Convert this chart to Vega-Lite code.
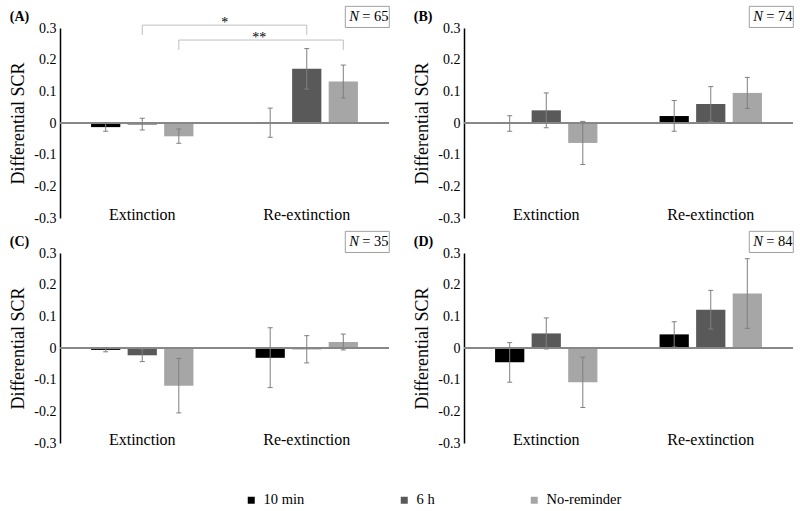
{
  "$schema": "https://vega.github.io/schema/vega-lite/v6.json",
  "padding": {"left": 9, "top": 4, "right": 0, "bottom": 0},
  "background": "white",
  "config": {
    "font": "Liberation Serif",
    "axis": {"labelFont": "Liberation Serif", "titleFont": "Liberation Serif"},
    "legend": {"labelFont": "Liberation Serif", "titleFont": "Liberation Serif"},
    "title": {"font": "Liberation Serif"},
    "text": {"font": "Liberation Serif"},
    "view": {"stroke": null},
    "concat": {"spacing": 21}
  },
  "datasets": {
    "d": [
      {"panel": "A", "kind": "bar", "phase": "Extinction", "cond": "10 min", "mean": -0.013, "lo": -0.026, "hi": 0.001},
      {"panel": "A", "kind": "bar", "phase": "Extinction", "cond": "6 h", "mean": -0.005, "lo": -0.022, "hi": 0.015},
      {"panel": "A", "kind": "bar", "phase": "Extinction", "cond": "No-reminder", "mean": -0.042, "lo": -0.064, "hi": -0.019},
      {"panel": "A", "kind": "bar", "phase": "Re-extinction", "cond": "10 min", "mean": 0.003, "lo": -0.045, "hi": 0.047},
      {"panel": "A", "kind": "bar", "phase": "Re-extinction", "cond": "6 h", "mean": 0.171, "lo": 0.107, "hi": 0.235},
      {"panel": "A", "kind": "bar", "phase": "Re-extinction", "cond": "No-reminder", "mean": 0.131, "lo": 0.079, "hi": 0.183},
      {"panel": "B", "kind": "bar", "phase": "Extinction", "cond": "10 min", "mean": -0.002, "lo": -0.026, "hi": 0.023},
      {"panel": "B", "kind": "bar", "phase": "Extinction", "cond": "6 h", "mean": 0.040, "lo": -0.015, "hi": 0.095},
      {"panel": "B", "kind": "bar", "phase": "Extinction", "cond": "No-reminder", "mean": -0.063, "lo": -0.131, "hi": 0.005},
      {"panel": "B", "kind": "bar", "phase": "Re-extinction", "cond": "10 min", "mean": 0.022, "lo": -0.026, "hi": 0.071},
      {"panel": "B", "kind": "bar", "phase": "Re-extinction", "cond": "6 h", "mean": 0.060, "lo": 0.005, "hi": 0.115},
      {"panel": "B", "kind": "bar", "phase": "Re-extinction", "cond": "No-reminder", "mean": 0.095, "lo": 0.046, "hi": 0.144},
      {"panel": "C", "kind": "bar", "phase": "Extinction", "cond": "10 min", "mean": -0.006, "lo": -0.012, "hi": 0.000},
      {"panel": "C", "kind": "bar", "phase": "Extinction", "cond": "6 h", "mean": -0.023, "lo": -0.043, "hi": -0.003},
      {"panel": "C", "kind": "bar", "phase": "Extinction", "cond": "No-reminder", "mean": -0.119, "lo": -0.205, "hi": -0.033},
      {"panel": "C", "kind": "bar", "phase": "Re-extinction", "cond": "10 min", "mean": -0.031, "lo": -0.125, "hi": 0.064},
      {"panel": "C", "kind": "bar", "phase": "Re-extinction", "cond": "6 h", "mean": -0.004, "lo": -0.047, "hi": 0.039},
      {"panel": "C", "kind": "bar", "phase": "Re-extinction", "cond": "No-reminder", "mean": 0.019, "lo": -0.006, "hi": 0.044},
      {"panel": "D", "kind": "bar", "phase": "Extinction", "cond": "10 min", "mean": -0.045, "lo": -0.108, "hi": 0.017},
      {"panel": "D", "kind": "bar", "phase": "Extinction", "cond": "6 h", "mean": 0.046, "lo": -0.003, "hi": 0.095},
      {"panel": "D", "kind": "bar", "phase": "Extinction", "cond": "No-reminder", "mean": -0.108, "lo": -0.188, "hi": -0.029},
      {"panel": "D", "kind": "bar", "phase": "Re-extinction", "cond": "10 min", "mean": 0.043, "lo": 0.003, "hi": 0.083},
      {"panel": "D", "kind": "bar", "phase": "Re-extinction", "cond": "6 h", "mean": 0.121, "lo": 0.060, "hi": 0.182},
      {"panel": "D", "kind": "bar", "phase": "Re-extinction", "cond": "No-reminder", "mean": 0.172, "lo": 0.062, "hi": 0.282},
      {"panel": "A", "kind": "n", "phase": "Re-extinction", "cond": "No-reminder", "y": 0.335, "label": "= 65"},
      {"panel": "B", "kind": "n", "phase": "Re-extinction", "cond": "No-reminder", "y": 0.335, "label": "= 74"},
      {"panel": "C", "kind": "n", "phase": "Re-extinction", "cond": "No-reminder", "y": 0.335, "label": "= 35"},
      {"panel": "D", "kind": "n", "phase": "Re-extinction", "cond": "No-reminder", "y": 0.335, "label": "= 84"},
      {"panel": "A", "kind": "br", "id": 1, "o": 1, "phase": "Extinction", "cond": "6 h", "y": 0.278},
      {"panel": "A", "kind": "br", "id": 1, "o": 2, "phase": "Extinction", "cond": "6 h", "y": 0.309},
      {"panel": "A", "kind": "br", "id": 1, "o": 3, "phase": "Re-extinction", "cond": "6 h", "y": 0.309},
      {"panel": "A", "kind": "br", "id": 1, "o": 4, "phase": "Re-extinction", "cond": "6 h", "y": 0.278},
      {"panel": "A", "kind": "br", "id": 2, "o": 1, "phase": "Extinction", "cond": "No-reminder", "y": 0.231},
      {"panel": "A", "kind": "br", "id": 2, "o": 2, "phase": "Extinction", "cond": "No-reminder", "y": 0.262},
      {"panel": "A", "kind": "br", "id": 2, "o": 3, "phase": "Re-extinction", "cond": "No-reminder", "y": 0.262},
      {"panel": "A", "kind": "br", "id": 2, "o": 4, "phase": "Re-extinction", "cond": "No-reminder", "y": 0.231},
      {"panel": "A", "kind": "s1", "phase": "Extinction", "cond": "No-reminder", "y": 0.303, "label": "*"},
      {"panel": "A", "kind": "s2", "phase": "Re-extinction", "cond": "10 min", "y": 0.256, "label": "**"}
    ]
  },
  "vconcat": [
    {"hconcat": [
      {
        "width": 329, "height": 190,
        "title": {"text": "(A)", "anchor": "start", "frame": "bounds", "fontSize": 14, "fontWeight": "bold", "font": "Liberation Serif", "baseline": "middle", "offset": -27, "color": "black"},
        "data": {"name": "d"},
        "transform": [{"filter": "datum.panel == 'A'"}],
        "layer": [
          {"transform": [{"filter": "datum.kind == 'bar'"}], "mark": {"type": "bar"},
           "encoding": {
             "x": {"field": "phase", "type": "nominal", "scale": {"paddingInner": 0, "paddingOuter": 0}, "axis": {"title": null, "domain": false, "ticks": false, "labelAngle": 0, "labelFont": "Liberation Serif", "labelFontSize": 16, "labelColor": "black", "labelPadding": -4, "labelBaseline": "middle"}},
             "xOffset": {"field": "cond", "type": "nominal", "scale": {"paddingInner": 0.2, "paddingOuter": 0.85}},
             "y": {"field": "mean", "type": "quantitative", "scale": {"domain": [-0.3, 0.3], "nice": false, "zero": false}, "axis": {"title": "Differential SCR", "titleFont": "Liberation Serif", "titleFontSize": 18, "titleFontWeight": "normal", "titleColor": "black", "titlePadding": 6, "tickCount": 6, "format": ".1~f", "labelExpr": "replace(datum.label, '\u2212', '-')", "labelOverlap": false, "labelFont": "Liberation Serif", "labelFontSize": 14, "labelColor": "black", "labelPadding": 4, "ticks": false, "grid": false, "domainColor": "black", "domainWidth": 1.5}},
             "y2": {"datum": 0},
             "color": {"field": "cond", "type": "nominal", "scale": {"domain": ["10 min", "6 h", "No-reminder"], "range": ["#000000", "#595959", "#a6a6a6"]}, "legend": {"orient": "none", "legendX": 184, "legendY": 465, "direction": "horizontal", "title": null, "symbolType": "square", "symbolSize": 49, "symbolStrokeWidth": 0, "symbolOpacity": 1, "labelFont": "Liberation Serif", "labelFontSize": 14.5, "labelColor": "black", "labelOffset": 5, "columnPadding": 92, "gridAlign": "none", "padding": 0}}
           }},
          {"transform": [{"filter": "datum.kind == 'bar'"}], "mark": {"type": "rule", "color": "#868686", "strokeWidth": 1}, "encoding": {"y": {"datum": 0, "scale": {"domain": [-0.3, 0.3], "nice": false, "zero": false}}}},
          {"transform": [{"filter": "datum.kind == 'bar'"}], "mark": {"type": "rule", "color": "#7f7f7f", "strokeWidth": 1},
           "encoding": {"x": {"field": "phase", "type": "nominal"}, "xOffset": {"field": "cond", "type": "nominal"}, "y": {"field": "lo", "type": "quantitative", "scale": {"domain": [-0.3, 0.3], "nice": false, "zero": false}}, "y2": {"field": "hi"}}},
          {"transform": [{"filter": "datum.kind == 'bar'"}], "mark": {"type": "tick", "color": "#7f7f7f", "size": 5, "thickness": 1, "opacity": 1},
           "encoding": {"x": {"field": "phase", "type": "nominal"}, "xOffset": {"field": "cond", "type": "nominal"}, "y": {"field": "lo", "type": "quantitative", "scale": {"domain": [-0.3, 0.3], "nice": false, "zero": false}}}},
          {"transform": [{"filter": "datum.kind == 'bar'"}], "mark": {"type": "tick", "color": "#7f7f7f", "size": 5, "thickness": 1, "opacity": 1},
           "encoding": {"x": {"field": "phase", "type": "nominal"}, "xOffset": {"field": "cond", "type": "nominal"}, "y": {"field": "hi", "type": "quantitative", "scale": {"domain": [-0.3, 0.3], "nice": false, "zero": false}}}},
          {"transform": [{"filter": "datum.kind == 'br'"}], "mark": {"type": "line", "color": "#bfbfbf", "strokeWidth": 1},
           "encoding": {"x": {"field": "phase", "type": "nominal"}, "xOffset": {"field": "cond", "type": "nominal"}, "y": {"field": "y", "type": "quantitative", "scale": {"domain": [-0.3, 0.3], "nice": false, "zero": false}}, "detail": {"field": "id"}, "order": {"field": "o"}}},
          {"transform": [{"filter": "datum.kind == 's1'"}], "mark": {"type": "text", "font": "Liberation Serif", "fontSize": 14, "dx": 46, "align": "center", "baseline": "alphabetic", "color": "black"},
           "encoding": {"x": {"field": "phase", "type": "nominal"}, "xOffset": {"field": "cond", "type": "nominal"}, "y": {"field": "y", "type": "quantitative", "scale": {"domain": [-0.3, 0.3], "nice": false, "zero": false}}, "text": {"field": "label"}}},
          {"transform": [{"filter": "datum.kind == 's2'"}], "mark": {"type": "text", "font": "Liberation Serif", "fontSize": 14, "dx": -11, "align": "center", "baseline": "alphabetic", "color": "black"},
           "encoding": {"x": {"field": "phase", "type": "nominal"}, "xOffset": {"field": "cond", "type": "nominal"}, "y": {"field": "y", "type": "quantitative", "scale": {"domain": [-0.3, 0.3], "nice": false, "zero": false}}, "text": {"field": "label"}}},
          {"transform": [{"filter": "datum.kind == 'n'"}], "mark": {"type": "point", "shape": "M0.09,-0.48H2.09V0.48H0.09Z", "size": 1936, "filled": false, "stroke": "#a0a0a0", "strokeWidth": 1, "opacity": 1},
           "encoding": {"x": {"field": "phase", "type": "nominal"}, "xOffset": {"field": "cond", "type": "nominal"}, "y": {"field": "y", "type": "quantitative", "scale": {"domain": [-0.3, 0.3], "nice": false, "zero": false}}}},
          {"transform": [{"filter": "datum.kind == 'n'"}], "mark": {"type": "text", "text": "N", "font": "Liberation Serif", "fontStyle": "italic", "fontSize": 14.5, "dx": 6, "align": "left", "baseline": "middle", "color": "black"},
           "encoding": {"x": {"field": "phase", "type": "nominal"}, "xOffset": {"field": "cond", "type": "nominal"}, "y": {"field": "y", "type": "quantitative", "scale": {"domain": [-0.3, 0.3], "nice": false, "zero": false}}}},
          {"transform": [{"filter": "datum.kind == 'n'"}], "mark": {"type": "text", "font": "Liberation Serif", "fontSize": 14.5, "dx": 19, "align": "left", "baseline": "middle", "color": "black"},
           "encoding": {"x": {"field": "phase", "type": "nominal"}, "xOffset": {"field": "cond", "type": "nominal"}, "y": {"field": "y", "type": "quantitative", "scale": {"domain": [-0.3, 0.3], "nice": false, "zero": false}}, "text": {"field": "label"}}}
        ]
      },
      {
        "width": 329, "height": 190,
        "title": {"text": "(B)", "anchor": "start", "frame": "bounds", "fontSize": 14, "fontWeight": "bold", "font": "Liberation Serif", "baseline": "middle", "offset": -27, "color": "black"},
        "data": {"name": "d"},
        "transform": [{"filter": "datum.panel == 'B'"}],
        "layer": [
          {"transform": [{"filter": "datum.kind == 'bar'"}], "mark": {"type": "bar"},
           "encoding": {
             "x": {"field": "phase", "type": "nominal", "scale": {"paddingInner": 0, "paddingOuter": 0}, "axis": {"title": null, "domain": false, "ticks": false, "labelAngle": 0, "labelFont": "Liberation Serif", "labelFontSize": 16, "labelColor": "black", "labelPadding": -4, "labelBaseline": "middle"}},
             "xOffset": {"field": "cond", "type": "nominal", "scale": {"paddingInner": 0.2, "paddingOuter": 0.85}},
             "y": {"field": "mean", "type": "quantitative", "scale": {"domain": [-0.3, 0.3], "nice": false, "zero": false}, "axis": {"title": "Differential SCR", "titleFont": "Liberation Serif", "titleFontSize": 18, "titleFontWeight": "normal", "titleColor": "black", "titlePadding": 6, "tickCount": 6, "format": ".1~f", "labelExpr": "replace(datum.label, '\u2212', '-')", "labelOverlap": false, "labelFont": "Liberation Serif", "labelFontSize": 14, "labelColor": "black", "labelPadding": 4, "ticks": false, "grid": false, "domainColor": "black", "domainWidth": 1.5}},
             "y2": {"datum": 0},
             "color": {"field": "cond", "type": "nominal", "scale": {"domain": ["10 min", "6 h", "No-reminder"], "range": ["#000000", "#595959", "#a6a6a6"]}, "legend": {"orient": "none", "legendX": 184, "legendY": 465, "direction": "horizontal", "title": null, "symbolType": "square", "symbolSize": 49, "symbolStrokeWidth": 0, "symbolOpacity": 1, "labelFont": "Liberation Serif", "labelFontSize": 14.5, "labelColor": "black", "labelOffset": 5, "columnPadding": 92, "gridAlign": "none", "padding": 0}}
           }},
          {"transform": [{"filter": "datum.kind == 'bar'"}], "mark": {"type": "rule", "color": "#868686", "strokeWidth": 1}, "encoding": {"y": {"datum": 0, "scale": {"domain": [-0.3, 0.3], "nice": false, "zero": false}}}},
          {"transform": [{"filter": "datum.kind == 'bar'"}], "mark": {"type": "rule", "color": "#7f7f7f", "strokeWidth": 1},
           "encoding": {"x": {"field": "phase", "type": "nominal"}, "xOffset": {"field": "cond", "type": "nominal"}, "y": {"field": "lo", "type": "quantitative", "scale": {"domain": [-0.3, 0.3], "nice": false, "zero": false}}, "y2": {"field": "hi"}}},
          {"transform": [{"filter": "datum.kind == 'bar'"}], "mark": {"type": "tick", "color": "#7f7f7f", "size": 5, "thickness": 1, "opacity": 1},
           "encoding": {"x": {"field": "phase", "type": "nominal"}, "xOffset": {"field": "cond", "type": "nominal"}, "y": {"field": "lo", "type": "quantitative", "scale": {"domain": [-0.3, 0.3], "nice": false, "zero": false}}}},
          {"transform": [{"filter": "datum.kind == 'bar'"}], "mark": {"type": "tick", "color": "#7f7f7f", "size": 5, "thickness": 1, "opacity": 1},
           "encoding": {"x": {"field": "phase", "type": "nominal"}, "xOffset": {"field": "cond", "type": "nominal"}, "y": {"field": "hi", "type": "quantitative", "scale": {"domain": [-0.3, 0.3], "nice": false, "zero": false}}}},
          {"transform": [{"filter": "datum.kind == 'n'"}], "mark": {"type": "point", "shape": "M0.09,-0.48H2.09V0.48H0.09Z", "size": 1936, "filled": false, "stroke": "#a0a0a0", "strokeWidth": 1, "opacity": 1},
           "encoding": {"x": {"field": "phase", "type": "nominal"}, "xOffset": {"field": "cond", "type": "nominal"}, "y": {"field": "y", "type": "quantitative", "scale": {"domain": [-0.3, 0.3], "nice": false, "zero": false}}}},
          {"transform": [{"filter": "datum.kind == 'n'"}], "mark": {"type": "text", "text": "N", "font": "Liberation Serif", "fontStyle": "italic", "fontSize": 14.5, "dx": 6, "align": "left", "baseline": "middle", "color": "black"},
           "encoding": {"x": {"field": "phase", "type": "nominal"}, "xOffset": {"field": "cond", "type": "nominal"}, "y": {"field": "y", "type": "quantitative", "scale": {"domain": [-0.3, 0.3], "nice": false, "zero": false}}}},
          {"transform": [{"filter": "datum.kind == 'n'"}], "mark": {"type": "text", "font": "Liberation Serif", "fontSize": 14.5, "dx": 19, "align": "left", "baseline": "middle", "color": "black"},
           "encoding": {"x": {"field": "phase", "type": "nominal"}, "xOffset": {"field": "cond", "type": "nominal"}, "y": {"field": "y", "type": "quantitative", "scale": {"domain": [-0.3, 0.3], "nice": false, "zero": false}}, "text": {"field": "label"}}}
        ]
      }
    ]},
    {"hconcat": [
      {
        "width": 329, "height": 190,
        "title": {"text": "(C)", "anchor": "start", "frame": "bounds", "fontSize": 14, "fontWeight": "bold", "font": "Liberation Serif", "baseline": "middle", "offset": -27, "color": "black"},
        "data": {"name": "d"},
        "transform": [{"filter": "datum.panel == 'C'"}],
        "layer": [
          {"transform": [{"filter": "datum.kind == 'bar'"}], "mark": {"type": "bar"},
           "encoding": {
             "x": {"field": "phase", "type": "nominal", "scale": {"paddingInner": 0, "paddingOuter": 0}, "axis": {"title": null, "domain": false, "ticks": false, "labelAngle": 0, "labelFont": "Liberation Serif", "labelFontSize": 16, "labelColor": "black", "labelPadding": -4, "labelBaseline": "middle"}},
             "xOffset": {"field": "cond", "type": "nominal", "scale": {"paddingInner": 0.2, "paddingOuter": 0.85}},
             "y": {"field": "mean", "type": "quantitative", "scale": {"domain": [-0.3, 0.3], "nice": false, "zero": false}, "axis": {"title": "Differential SCR", "titleFont": "Liberation Serif", "titleFontSize": 18, "titleFontWeight": "normal", "titleColor": "black", "titlePadding": 6, "tickCount": 6, "format": ".1~f", "labelExpr": "replace(datum.label, '\u2212', '-')", "labelOverlap": false, "labelFont": "Liberation Serif", "labelFontSize": 14, "labelColor": "black", "labelPadding": 4, "ticks": false, "grid": false, "domainColor": "black", "domainWidth": 1.5}},
             "y2": {"datum": 0},
             "color": {"field": "cond", "type": "nominal", "scale": {"domain": ["10 min", "6 h", "No-reminder"], "range": ["#000000", "#595959", "#a6a6a6"]}, "legend": {"orient": "none", "legendX": 184, "legendY": 465, "direction": "horizontal", "title": null, "symbolType": "square", "symbolSize": 49, "symbolStrokeWidth": 0, "symbolOpacity": 1, "labelFont": "Liberation Serif", "labelFontSize": 14.5, "labelColor": "black", "labelOffset": 5, "columnPadding": 92, "gridAlign": "none", "padding": 0}}
           }},
          {"transform": [{"filter": "datum.kind == 'bar'"}], "mark": {"type": "rule", "color": "#868686", "strokeWidth": 1}, "encoding": {"y": {"datum": 0, "scale": {"domain": [-0.3, 0.3], "nice": false, "zero": false}}}},
          {"transform": [{"filter": "datum.kind == 'bar'"}], "mark": {"type": "rule", "color": "#7f7f7f", "strokeWidth": 1},
           "encoding": {"x": {"field": "phase", "type": "nominal"}, "xOffset": {"field": "cond", "type": "nominal"}, "y": {"field": "lo", "type": "quantitative", "scale": {"domain": [-0.3, 0.3], "nice": false, "zero": false}}, "y2": {"field": "hi"}}},
          {"transform": [{"filter": "datum.kind == 'bar'"}], "mark": {"type": "tick", "color": "#7f7f7f", "size": 5, "thickness": 1, "opacity": 1},
           "encoding": {"x": {"field": "phase", "type": "nominal"}, "xOffset": {"field": "cond", "type": "nominal"}, "y": {"field": "lo", "type": "quantitative", "scale": {"domain": [-0.3, 0.3], "nice": false, "zero": false}}}},
          {"transform": [{"filter": "datum.kind == 'bar'"}], "mark": {"type": "tick", "color": "#7f7f7f", "size": 5, "thickness": 1, "opacity": 1},
           "encoding": {"x": {"field": "phase", "type": "nominal"}, "xOffset": {"field": "cond", "type": "nominal"}, "y": {"field": "hi", "type": "quantitative", "scale": {"domain": [-0.3, 0.3], "nice": false, "zero": false}}}},
          {"transform": [{"filter": "datum.kind == 'n'"}], "mark": {"type": "point", "shape": "M0.09,-0.48H2.09V0.48H0.09Z", "size": 1936, "filled": false, "stroke": "#a0a0a0", "strokeWidth": 1, "opacity": 1},
           "encoding": {"x": {"field": "phase", "type": "nominal"}, "xOffset": {"field": "cond", "type": "nominal"}, "y": {"field": "y", "type": "quantitative", "scale": {"domain": [-0.3, 0.3], "nice": false, "zero": false}}}},
          {"transform": [{"filter": "datum.kind == 'n'"}], "mark": {"type": "text", "text": "N", "font": "Liberation Serif", "fontStyle": "italic", "fontSize": 14.5, "dx": 6, "align": "left", "baseline": "middle", "color": "black"},
           "encoding": {"x": {"field": "phase", "type": "nominal"}, "xOffset": {"field": "cond", "type": "nominal"}, "y": {"field": "y", "type": "quantitative", "scale": {"domain": [-0.3, 0.3], "nice": false, "zero": false}}}},
          {"transform": [{"filter": "datum.kind == 'n'"}], "mark": {"type": "text", "font": "Liberation Serif", "fontSize": 14.5, "dx": 19, "align": "left", "baseline": "middle", "color": "black"},
           "encoding": {"x": {"field": "phase", "type": "nominal"}, "xOffset": {"field": "cond", "type": "nominal"}, "y": {"field": "y", "type": "quantitative", "scale": {"domain": [-0.3, 0.3], "nice": false, "zero": false}}, "text": {"field": "label"}}}
        ]
      },
      {
        "width": 329, "height": 190,
        "title": {"text": "(D)", "anchor": "start", "frame": "bounds", "fontSize": 14, "fontWeight": "bold", "font": "Liberation Serif", "baseline": "middle", "offset": -27, "color": "black"},
        "data": {"name": "d"},
        "transform": [{"filter": "datum.panel == 'D'"}],
        "layer": [
          {"transform": [{"filter": "datum.kind == 'bar'"}], "mark": {"type": "bar"},
           "encoding": {
             "x": {"field": "phase", "type": "nominal", "scale": {"paddingInner": 0, "paddingOuter": 0}, "axis": {"title": null, "domain": false, "ticks": false, "labelAngle": 0, "labelFont": "Liberation Serif", "labelFontSize": 16, "labelColor": "black", "labelPadding": -4, "labelBaseline": "middle"}},
             "xOffset": {"field": "cond", "type": "nominal", "scale": {"paddingInner": 0.2, "paddingOuter": 0.85}},
             "y": {"field": "mean", "type": "quantitative", "scale": {"domain": [-0.3, 0.3], "nice": false, "zero": false}, "axis": {"title": "Differential SCR", "titleFont": "Liberation Serif", "titleFontSize": 18, "titleFontWeight": "normal", "titleColor": "black", "titlePadding": 6, "tickCount": 6, "format": ".1~f", "labelExpr": "replace(datum.label, '\u2212', '-')", "labelOverlap": false, "labelFont": "Liberation Serif", "labelFontSize": 14, "labelColor": "black", "labelPadding": 4, "ticks": false, "grid": false, "domainColor": "black", "domainWidth": 1.5}},
             "y2": {"datum": 0},
             "color": {"field": "cond", "type": "nominal", "scale": {"domain": ["10 min", "6 h", "No-reminder"], "range": ["#000000", "#595959", "#a6a6a6"]}, "legend": {"orient": "none", "legendX": 184, "legendY": 465, "direction": "horizontal", "title": null, "symbolType": "square", "symbolSize": 49, "symbolStrokeWidth": 0, "symbolOpacity": 1, "labelFont": "Liberation Serif", "labelFontSize": 14.5, "labelColor": "black", "labelOffset": 5, "columnPadding": 92, "gridAlign": "none", "padding": 0}}
           }},
          {"transform": [{"filter": "datum.kind == 'bar'"}], "mark": {"type": "rule", "color": "#868686", "strokeWidth": 1}, "encoding": {"y": {"datum": 0, "scale": {"domain": [-0.3, 0.3], "nice": false, "zero": false}}}},
          {"transform": [{"filter": "datum.kind == 'bar'"}], "mark": {"type": "rule", "color": "#7f7f7f", "strokeWidth": 1},
           "encoding": {"x": {"field": "phase", "type": "nominal"}, "xOffset": {"field": "cond", "type": "nominal"}, "y": {"field": "lo", "type": "quantitative", "scale": {"domain": [-0.3, 0.3], "nice": false, "zero": false}}, "y2": {"field": "hi"}}},
          {"transform": [{"filter": "datum.kind == 'bar'"}], "mark": {"type": "tick", "color": "#7f7f7f", "size": 5, "thickness": 1, "opacity": 1},
           "encoding": {"x": {"field": "phase", "type": "nominal"}, "xOffset": {"field": "cond", "type": "nominal"}, "y": {"field": "lo", "type": "quantitative", "scale": {"domain": [-0.3, 0.3], "nice": false, "zero": false}}}},
          {"transform": [{"filter": "datum.kind == 'bar'"}], "mark": {"type": "tick", "color": "#7f7f7f", "size": 5, "thickness": 1, "opacity": 1},
           "encoding": {"x": {"field": "phase", "type": "nominal"}, "xOffset": {"field": "cond", "type": "nominal"}, "y": {"field": "hi", "type": "quantitative", "scale": {"domain": [-0.3, 0.3], "nice": false, "zero": false}}}},
          {"transform": [{"filter": "datum.kind == 'n'"}], "mark": {"type": "point", "shape": "M0.09,-0.48H2.09V0.48H0.09Z", "size": 1936, "filled": false, "stroke": "#a0a0a0", "strokeWidth": 1, "opacity": 1},
           "encoding": {"x": {"field": "phase", "type": "nominal"}, "xOffset": {"field": "cond", "type": "nominal"}, "y": {"field": "y", "type": "quantitative", "scale": {"domain": [-0.3, 0.3], "nice": false, "zero": false}}}},
          {"transform": [{"filter": "datum.kind == 'n'"}], "mark": {"type": "text", "text": "N", "font": "Liberation Serif", "fontStyle": "italic", "fontSize": 14.5, "dx": 6, "align": "left", "baseline": "middle", "color": "black"},
           "encoding": {"x": {"field": "phase", "type": "nominal"}, "xOffset": {"field": "cond", "type": "nominal"}, "y": {"field": "y", "type": "quantitative", "scale": {"domain": [-0.3, 0.3], "nice": false, "zero": false}}}},
          {"transform": [{"filter": "datum.kind == 'n'"}], "mark": {"type": "text", "font": "Liberation Serif", "fontSize": 14.5, "dx": 19, "align": "left", "baseline": "middle", "color": "black"},
           "encoding": {"x": {"field": "phase", "type": "nominal"}, "xOffset": {"field": "cond", "type": "nominal"}, "y": {"field": "y", "type": "quantitative", "scale": {"domain": [-0.3, 0.3], "nice": false, "zero": false}}, "text": {"field": "label"}}}
        ]
      }
    ]}
  ],
  "spacing": 4
}
